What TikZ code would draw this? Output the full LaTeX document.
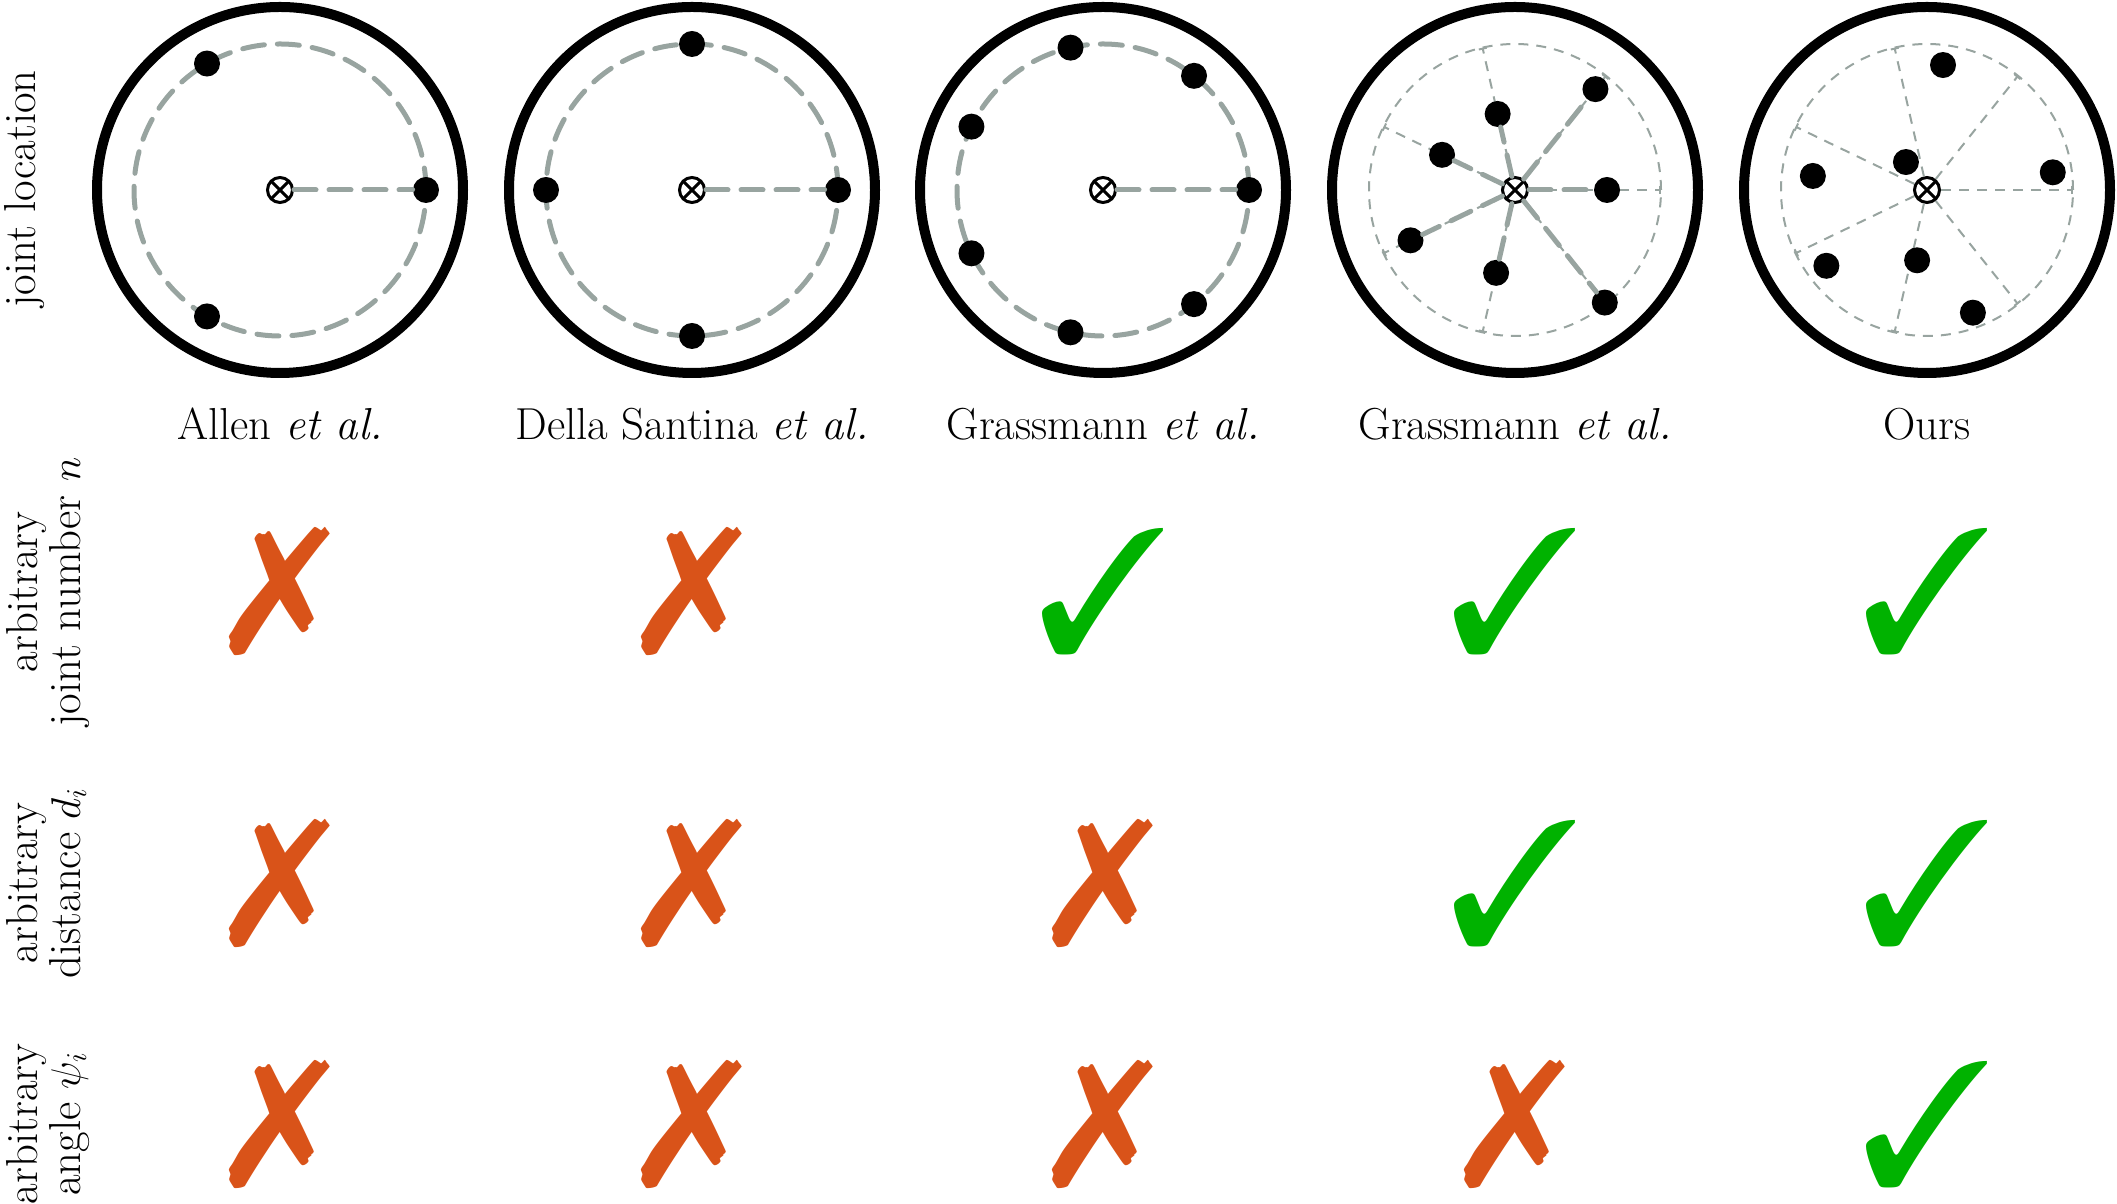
\documentclass[tikz,border=0pt]{standalone}
\usepackage{pifont}
\usetikzlibrary{arrows.meta,calc}
\definecolor{jgray}{RGB}{152,164,160}
\definecolor{xorange}{RGB}{217,83,25}
\definecolor{ckgreen}{RGB}{0,178,0}
\begin{document}
\begin{tikzpicture}[x=0.5pt,y=0.5pt,
  rim/.style={line width=5pt},
  guide/.style={draw=jgray, line width=2.5pt, dash pattern=on 11pt off 6.5pt, line cap=round},
  ray/.style={draw=jgray, line width=1pt, dash pattern=on 5pt off 4pt, -{Bar[width=4pt,line width=1pt]}},
  ringline/.style={draw=jgray, line width=1pt, dash pattern=on 5pt off 4pt},
  joint/.style={circle, fill=black, minimum size=13pt, inner sep=0pt},
  hub/.style={circle, draw=black, fill=white, line width=1.5pt, minimum size=12.5pt, inner sep=0pt,
    path picture={\draw[line width=1.5pt] (path picture bounding box.north west) -- (path picture bounding box.south east)
      (path picture bounding box.north east) -- (path picture bounding box.south west);}},
  lbl/.style={font=\fontsize{22.4}{22.4}\selectfont, inner sep=0pt},
  symb/.style={font=\fontsize{88}{88}\selectfont, inner sep=0pt},
  okmark/.style={symb, text=ckgreen},
  nomark/.style={symb, text=xorange},
]
\useasboundingbox (0,0) rectangle (2117,1204);

% centres
\coordinate (C1) at (280,1014);
\coordinate (C2) at (692,1014);
\coordinate (C3) at (1103,1014);
\coordinate (C4) at (1515,1014);
\coordinate (C5) at (1927,1014);

% rims
\foreach \c in {C1,C2,C3,C4,C5} \draw[rim] (\c) circle[radius=183];
\foreach \c in {C1,C2,C3} \draw[guide] (\c) circle[radius=146];
\foreach \c in {C4,C5} \draw[ringline] (\c) circle[radius=146];

% hubs
\node[hub] (h1) at (C1) {};
\node[hub] (h2) at (C2) {};
\node[hub] (h3) at (C3) {};
\node[hub] (h4) at (C4) {};
\node[hub] (h5) at (C5) {};

% circle 1
\foreach \a [count=\i] in {0,120,240} \node[joint] (a\i) at ($(C1)+(\a:146)$) {};
\draw[guide] (h1) -- (a1);

% circle 2
\foreach \a [count=\i] in {0,90,180,270} \node[joint] (b\i) at ($(C2)+(\a:146)$) {};
\draw[guide] (h2) -- (b1);

% circle 3
\foreach \k [count=\i] in {0,...,6} \node[joint] (c\i) at ($(C3)+({\k*360/7}:146)$) {};
\draw[guide] (h3) -- (c1);

% circle 4
\foreach \k [count=\i] in {0,...,6} {
  \coordinate (e4\i) at ($(C4)+({\k*360/7}:146)$);
  \draw[ray] (h4) -- (e4\i);
}
\foreach \k/\r [count=\i] in {0/92,1/129,2/78,3/81,4/116,5/85,6/144} {
  \node[joint] (d\i) at ($(C4)+({\k*360/7}:\r)$) {};
  \draw[guide] (h4) -- (d\i);
}

% circle 5
\foreach \k [count=\i] in {0,...,6} {
  \coordinate (e5\i) at ($(C5)+({\k*360/7}:146)$);
  \draw[ray] (h5) -- (e5\i);
}
\foreach \a/\r [count=\i] in {8/127,82.7/126,127/35,173/115,217/126,262/71,290.5/131}
  \node[joint] (f\i) at ($(C5)+(\a:\r)$) {};

% column labels
\node[lbl, anchor=base] (n1) at (280,764) {Allen \textit{et al.}};
\node[lbl, anchor=base] (n2) at (692,764) {Della Santina \textit{et al.}};
\node[lbl, anchor=base] (n3) at (1103,764) {Grassmann \textit{et al.}};
\node[lbl, anchor=base] (n4) at (1515,764) {Grassmann \textit{et al.}};
\node[lbl, anchor=base] (n5) at (1927,764) {Ours};

% row labels
\node[lbl, rotate=90, anchor=base] (r1) at (35,1015) {joint location};
\node[lbl, rotate=90, anchor=base] (r2a) at (37,612) {arbitrary};
\node[lbl, rotate=90, anchor=base] (r2b) at (80,612) {joint number $n$};
\node[lbl, rotate=90, anchor=base] (r3a) at (37,321) {arbitrary};
\node[lbl, rotate=90, anchor=base] (r3b) at (80,321) {distance $d_i$};
\node[lbl, rotate=90, anchor=base] (r4a) at (37,80) {arbitrary};
\node[lbl, rotate=90, anchor=base] (r4b) at (80,80) {angle $\psi_i$};

% marks
\node[nomark] (m11) at (280,613) {\ding{55}};
\node[nomark] (m12) at (692,613) {\ding{55}};
\node[okmark] (m13) at (1103,613) {\ding{51}};
\node[okmark] (m14) at (1515,613) {\ding{51}};
\node[okmark] (m15) at (1927,613) {\ding{51}};

\node[nomark] (m21) at (280,321) {\ding{55}};
\node[nomark] (m22) at (692,321) {\ding{55}};
\node[nomark] (m23) at (1103,321) {\ding{55}};
\node[okmark] (m24) at (1515,321) {\ding{51}};
\node[okmark] (m25) at (1927,321) {\ding{51}};

\node[nomark] (m31) at (280,80) {\ding{55}};
\node[nomark] (m32) at (692,80) {\ding{55}};
\node[nomark] (m33) at (1103,80) {\ding{55}};
\node[nomark] (m34) at (1515,80) {\ding{55}};
\node[okmark] (m35) at (1927,80) {\ding{51}};
\end{tikzpicture}
\end{document}
